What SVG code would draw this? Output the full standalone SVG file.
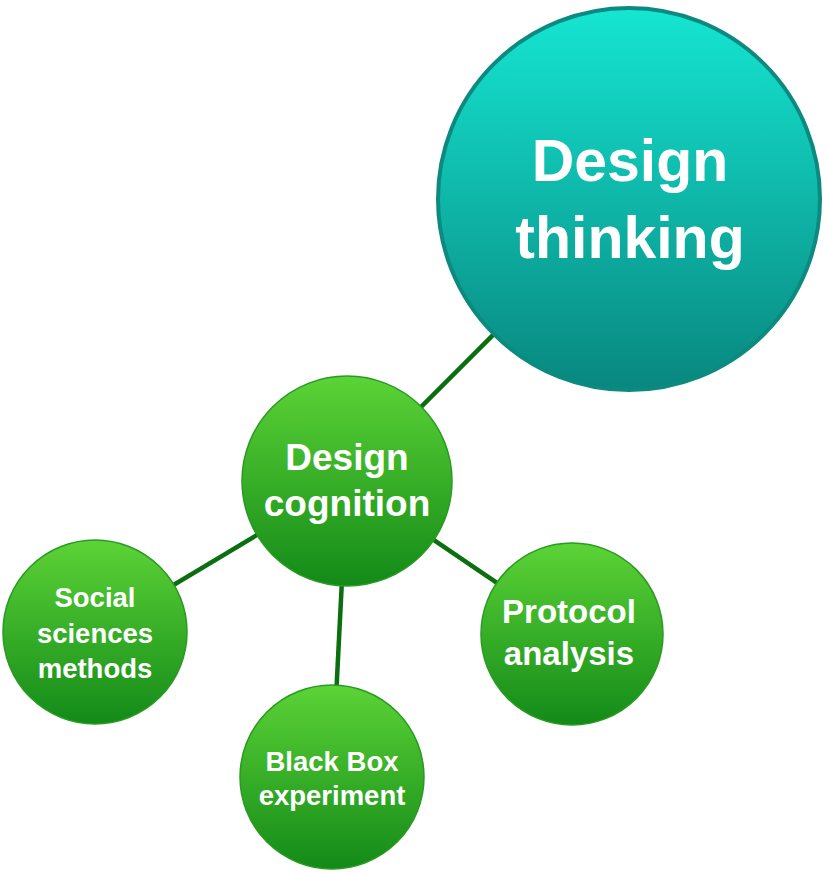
<svg xmlns="http://www.w3.org/2000/svg" width="827" height="872" viewBox="0 0 827 872">
<defs>
<linearGradient id="gTeal" x1="0" y1="0" x2="0" y2="1">
<stop offset="0" stop-color="#15e6d2"/>
<stop offset="1" stop-color="#08877f"/>
</linearGradient>
<linearGradient id="gGreen" x1="0" y1="0" x2="0" y2="1">
<stop offset="0" stop-color="#5cd336"/>
<stop offset="1" stop-color="#138a18"/>
</linearGradient>
<style>
.lbl{font-family:"Liberation Sans",Arial,Helvetica,sans-serif;font-weight:bold;fill:#ffffff;text-anchor:middle}
.green{fill:url(#gGreen);stroke:#2a9a22;stroke-width:1.5}
.conn line{stroke:#0b6e0f;stroke-width:4.5;stroke-linecap:butt}
</style>
</defs>
<rect width="827" height="872" fill="#ffffff"/>
<g id="connectors" class="conn">
<line x1="629" y1="199" x2="347" y2="481"/>
<line x1="347" y1="481" x2="95" y2="632"/>
<line x1="347" y1="481" x2="332" y2="777"/>
<line x1="347" y1="481" x2="572" y2="634"/>
</g>
<g id="design-thinking">
<circle cx="629" cy="199" r="191" fill="url(#gTeal)" stroke="#0c8a80" stroke-width="4"/>
<text class="lbl" x="630" y="181" font-size="59">Design</text>
<text class="lbl" x="630" y="258" font-size="59">thinking</text>
</g>
<g id="design-cognition">
<circle class="green" cx="347" cy="481" r="105"/>
<text class="lbl" x="347" y="470" font-size="37">Design</text>
<text class="lbl" x="347" y="516" font-size="37">cognition</text>
</g>
<g id="social-sciences">
<circle class="green" cx="95" cy="632" r="92"/>
<text class="lbl" x="95" y="607" font-size="27.5">Social</text>
<text class="lbl" x="95" y="643" font-size="27.5">sciences</text>
<text class="lbl" x="95" y="678" font-size="27.5">methods</text>
</g>
<g id="black-box">
<circle class="green" cx="332" cy="777" r="92"/>
<text class="lbl" x="332" y="771" font-size="27.5">Black Box</text>
<text class="lbl" x="332" y="805" font-size="27.5">experiment</text>
</g>
<g id="protocol-analysis">
<circle class="green" cx="572" cy="634" r="91"/>
<text class="lbl" x="569" y="623" font-size="33">Protocol</text>
<text class="lbl" x="569" y="665" font-size="33">analysis</text>
</g>
</svg>
